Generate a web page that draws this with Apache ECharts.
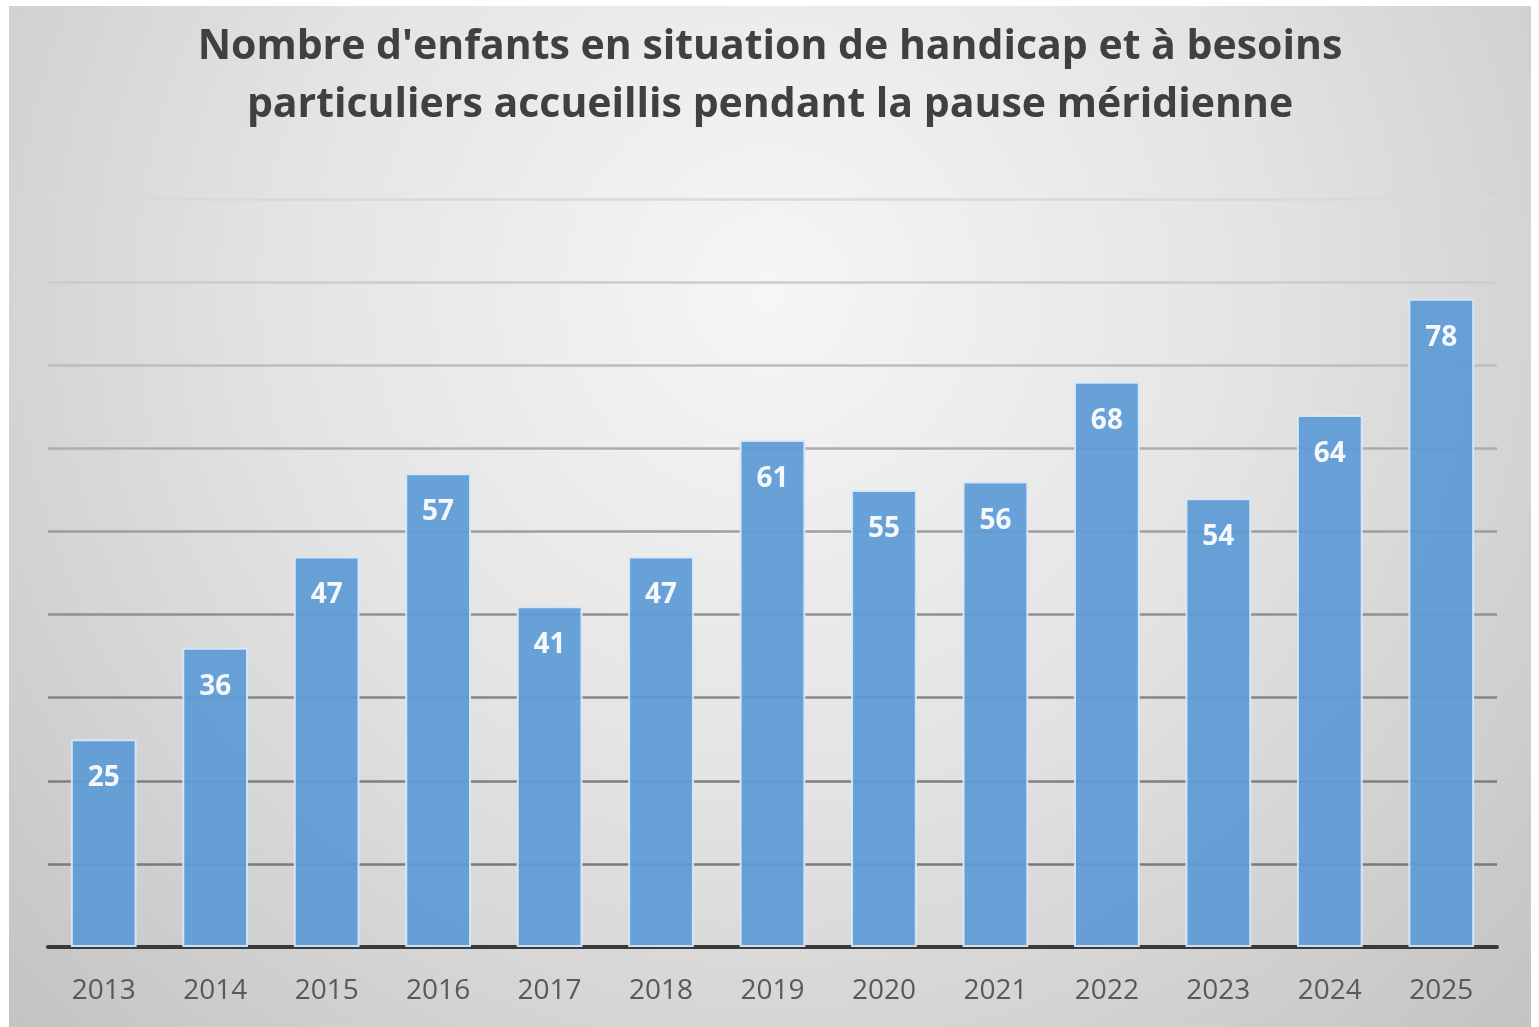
<!DOCTYPE html>
<html>
<head>
<meta charset="utf-8">
<script src="https://cdn.jsdelivr.net/npm/echarts@6/dist/echarts.min.js"></script>
<style>
  html, body { margin: 0; padding: 0; background: #ffffff; }
  #chart { position: absolute; left: 9px; top: 6px; width: 1522px; height: 1021px; }
</style>
</head>
<body>
<div id="chart"></div>
<script>
const years = ['2013', '2014', '2015', '2016', '2017', '2018', '2019', '2020', '2021', '2022', '2023', '2024', '2025'];
const enfants = [25, 36, 47, 57, 41, 47, 61, 55, 56, 68, 54, 64, 78];
const titleText = "Nombre d'enfants en situation de handicap et à besoins\nparticuliers accueillis pendant la pause méridienne";

// gridlines fade out towards the top (0 -> 90)
const gridColors = ['#666666', '#7a7a7a', '#7f7f7f', '#868686', '#909090', '#9e9e9e', '#adadad', '#bdbdbd', '#cccccc', '#d9d9d9'];

const chart = echarts.init(document.getElementById('chart'));
chart.setOption({
  backgroundColor: {
    type: 'radial', x: 0.5, y: 0.28, r: 1.05,
    colorStops: [
      { offset: 0, color: '#f6f6f6' },
      { offset: 0.45, color: '#e4e4e4' },
      { offset: 1, color: '#c2c2c2' }
    ]
  },
  textStyle: { fontFamily: 'Open Sans' },
  title: {
    text: titleText,
    left: 'center',
    top: 7,
    textStyle: {
      fontFamily: 'Open Sans',
      fontWeight: 'bold',
      fontSize: 41,
      lineHeight: 58,
      color: '#404040'
    }
  },
  grid: { left: 39, right: 34, top: 193, bottom: 80 },
  xAxis: {
    type: 'category',
    data: years,
    axisLine: { lineStyle: { color: '#3a3a3a', width: 4 } },
    axisTick: { show: false },
    axisLabel: { color: '#595959', fontSize: 28, margin: 30 }
  },
  yAxis: {
    type: 'value',
    min: 0,
    max: 90,
    interval: 10,
    axisLabel: { show: false },
    axisLine: { show: false },
    axisTick: { show: false },
    splitLine: { lineStyle: { color: gridColors, width: 2.5 } }
  },
  series: [{
    type: 'bar',
    data: enfants,
    barCategoryGap: '41%',
    itemStyle: {
      color: '#5e9bd5',
      opacity: 0.93,
      borderColor: '#d8e8f7',
      borderWidth: 2
    },
    label: {
      show: true,
      position: 'insideTop',
      distance: 25,
      color: '#ffffff',
      fontWeight: 'bold',
      fontSize: 28
    }
  }]
});
</script>
</body>
</html>
